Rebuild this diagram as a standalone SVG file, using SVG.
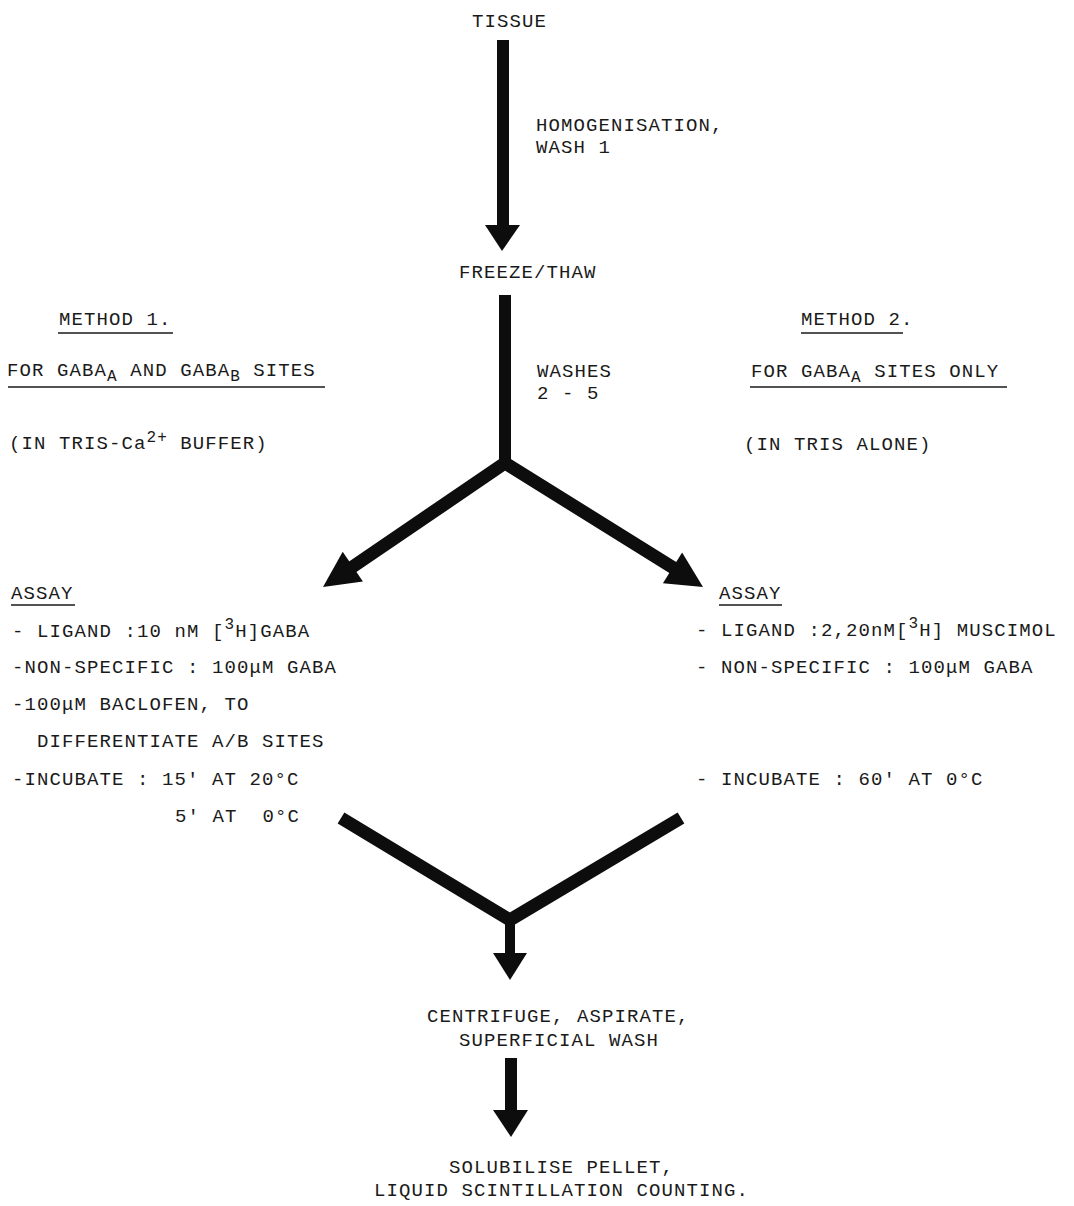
<svg xmlns="http://www.w3.org/2000/svg" width="1074" height="1206" viewBox="0 0 1074 1206">
<style>
  text { font-family: "Liberation Mono", "DejaVu Sans Mono", monospace; font-size: 19px; letter-spacing: 1.1px; fill: #1a1a1a; }
  .s { font-size: 16px; letter-spacing: 1px; }
  .ul { stroke: #1a1a1a; stroke-width: 1.6; fill: none; }
  .thick { stroke: #0d0d0d; fill: none; stroke-linecap: butt; stroke-linejoin: miter; }
  .head { fill: #0d0d0d; }
</style>
<rect width="1074" height="1206" fill="#ffffff"/>

<g id="connectors">
  <!-- tissue -> freeze/thaw -->
  <line class="thick" x1="503" y1="40" x2="503" y2="228" stroke-width="12"/>
  <polygon class="head" points="485,225 520,225 502,251"/>
  <!-- freeze/thaw -> split -->
  <line class="thick" x1="505" y1="295" x2="505" y2="466" stroke-width="12"/>
  <polyline class="thick" points="345,572 505,463 680,572" stroke-width="13"/>
  <polygon class="head" points="362.9,581.6 342.7,551.8 323,587"/>
  <polygon class="head" points="662.9,583.2 682.1,552.6 703,587"/>
  <!-- merge -->
  <polyline class="thick" points="341,818 510,920 681,818" stroke-width="13"/>
  <line class="thick" x1="510" y1="915" x2="510" y2="956" stroke-width="10"/>
  <polygon class="head" points="493,953 527,953 510,980"/>
  <!-- centrifuge -> solubilise -->
  <line class="thick" x1="511" y1="1058" x2="511" y2="1112" stroke-width="12"/>
  <polygon class="head" points="493,1110 528,1110 511,1137"/>
</g>

<g id="node-tissue">
  <text x="472" y="27">TISSUE</text>
</g>

<g id="label-homogenisation">
  <text x="536" y="131">HOMOGENISATION,</text>
  <text x="536" y="153">WASH 1</text>
</g>

<g id="node-freeze-thaw">
  <text x="459" y="278">FREEZE/THAW</text>
</g>

<g id="label-washes">
  <text x="537" y="377">WASHES</text>
  <text x="537" y="399">2 - 5</text>
</g>

<g id="node-method1">
  <text x="59" y="325">METHOD 1.</text>
  <line class="ul" x1="58" y1="333" x2="173" y2="333"/>
  <text x="7" y="376">FOR GABA<tspan class="s" dy="5">A</tspan><tspan dy="-5"> AND GABA</tspan><tspan class="s" dy="5">B</tspan><tspan dy="-5"> SITES</tspan></text>
  <line class="ul" x1="8" y1="387" x2="325" y2="387"/>
  <text x="9" y="449">(IN TRIS-Ca<tspan class="s" dy="-7">2+</tspan><tspan dy="7"> BUFFER)</tspan></text>
</g>

<g id="node-method2">
  <text x="801" y="325">METHOD 2.</text>
  <line class="ul" x1="801" y1="333" x2="903" y2="333"/>
  <text x="751" y="377">FOR GABA<tspan class="s" dy="5">A</tspan><tspan dy="-5"> SITES ONLY</tspan></text>
  <line class="ul" x1="750" y1="387" x2="1007" y2="387"/>
  <text x="744" y="450">(IN TRIS ALONE)</text>
</g>

<g id="node-assay1">
  <text x="11" y="599">ASSAY</text>
  <line class="ul" x1="11" y1="605" x2="75" y2="605"/>
  <text x="12" y="637">- LIGAND :10 nM [<tspan class="s" dy="-8">3</tspan><tspan dy="8">H]GABA</tspan></text>
  <text x="12" y="673">-NON-SPECIFIC : 100μM GABA</text>
  <text x="12" y="710">-100μM BACLOFEN, TO</text>
  <text x="37" y="747">DIFFERENTIATE A/B SITES</text>
  <text x="12" y="785">-INCUBATE : 15' AT 20°C</text>
  <text x="175" y="822">5' AT&#160; 0°C</text>
</g>

<g id="node-assay2">
  <text x="719" y="599">ASSAY</text>
  <line class="ul" x1="719" y1="605" x2="782" y2="605"/>
  <text x="696" y="636">- LIGAND :2,20nM[<tspan class="s" dy="-8">3</tspan><tspan dy="8">H] MUSCIMOL</tspan></text>
  <text x="696" y="673">- NON-SPECIFIC : 100μM GABA</text>
  <text x="696" y="785">- INCUBATE : 60' AT 0°C</text>
</g>

<g id="node-centrifuge">
  <text x="427" y="1022">CENTRIFUGE, ASPIRATE,</text>
  <text x="459" y="1046">SUPERFICIAL WASH</text>
</g>

<g id="node-solubilise">
  <text x="449" y="1173">SOLUBILISE PELLET,</text>
  <text x="374" y="1196">LIQUID SCINTILLATION COUNTING.</text>
</g>
</svg>
